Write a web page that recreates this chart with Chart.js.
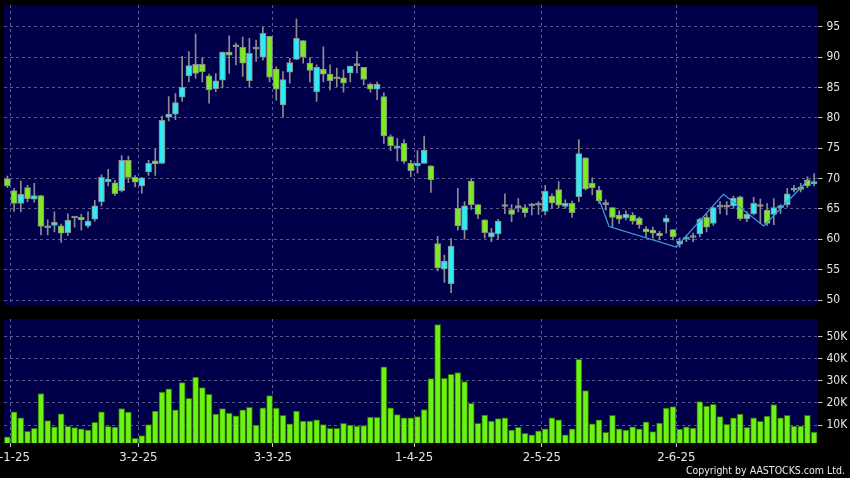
<!DOCTYPE html>
<html><head><meta charset="utf-8">
<script src="https://cdn.jsdelivr.net/npm/chart.js@4.4.1/dist/chart.umd.min.js"></script>
<style>
html,body{margin:0;padding:0;background:#000;width:850px;height:478px;overflow:hidden;}
#wrap{position:relative;width:850px;height:478px;background:#000;}
#pc{position:absolute;left:0;top:0;}
#vc{position:absolute;left:0;top:312px;}
#copy{position:absolute;right:5px;top:464px;color:#e8e8e8;font:10.5px 'DejaVu Sans Condensed','DejaVu Sans',sans-serif;white-space:nowrap;}
</style></head>
<body><div id="wrap"><canvas id="pc" width="850" height="312"></canvas><canvas id="vc" width="850" height="166"></canvas><div id="copy">Copyright by AASTOCKS.com Ltd.</div></div>
<script>
// ---- data (one entry per trading day, 31-12-24 .. 30-6-25) ----
const opens = [70.0,68.0,65.9,68.5,66.6,67.2,62.1,62.3,62.2,61.1,63.5,63.6,62.2,63.3,66.2,69.5,69.3,68.0,73.0,70.2,
68.8,71.1,72.9,72.5,80.1,80.6,83.4,86.9,88.8,88.8,86.9,84.8,86.2,90.8,91.7,91.6,86.1,91.3,90.0,93.4,
88.0,82.1,87.5,89.6,92.7,89.0,84.3,88.0,87.2,86.4,86.6,87.4,88.6,88.3,85.5,84.7,83.5,76.9,75.0,75.8,
72.5,72.1,72.5,72.1,59.3,55.1,52.7,65.1,61.5,69.6,65.7,63.2,60.4,60.9,65.7,64.9,65.2,65.2,65.5,65.6,
64.6,67.1,68.2,65.4,65.9,67.0,73.4,69.2,68.1,65.7,65.2,64.0,63.5,64.0,63.5,61.7,61.5,61.0,62.8,61.6,
59.2,60.0,60.3,60.9,63.6,62.6,65.3,65.3,65.5,67.0,63.4,64.2,65.7,64.8,64.1,65.2,65.7,68.1,68.6,69.8,69.1];
const highs = [70.4,68.4,69.6,68.9,69.2,67.2,63.2,64.5,62.5,64.2,63.7,64.1,64.5,66.4,70.6,71.5,69.7,73.8,73.7,70.5,
70.2,73.0,74.9,80.3,83.5,84.0,90.1,90.9,93.8,89.9,87.2,87.3,90.8,93.5,92.3,93.3,93.1,92.8,94.9,93.4,
88.4,87.6,89.8,96.3,92.7,89.9,88.7,91.7,88.7,88.2,87.9,88.5,90.9,88.3,85.7,85.9,84.1,77.2,76.6,76.4,
73.0,74.6,77.0,72.1,60.5,57.4,60.1,68.4,66.2,70.0,65.7,63.2,61.8,63.3,67.5,65.7,66.7,65.7,65.9,66.2,
68.9,67.5,69.5,66.5,66.3,76.4,73.4,70.1,68.7,66.5,65.2,64.7,64.7,64.4,63.7,62.1,62.0,61.3,64.0,61.6,
60.2,60.7,61.0,63.5,64.2,65.3,66.2,66.2,67.1,67.1,64.5,66.9,66.6,65.9,66.7,65.7,68.4,68.9,69.2,70.3,70.8];
const lows = [68.5,64.6,64.5,66.2,66.1,60.7,60.7,61.2,59.5,60.6,62.0,61.5,61.9,63.0,65.5,68.8,67.2,67.8,69.3,68.6,
67.6,70.5,70.5,72.5,79.5,79.7,82.7,85.9,86.5,85.9,82.4,84.3,84.9,87.3,88.7,86.8,85.0,89.3,89.5,85.9,
82.9,80.1,85.7,89.6,89.0,85.9,82.7,85.9,84.6,85.1,84.2,85.9,87.4,85.4,84.2,83.0,75.8,74.6,72.9,72.5,
70.3,70.9,72.5,67.7,54.8,52.9,51.2,61.5,60.0,64.9,63.4,60.2,59.6,60.0,64.2,62.9,64.5,63.7,64.0,64.1,
64.0,65.1,65.2,65.1,63.6,66.2,68.1,67.3,65.9,64.8,62.0,62.6,63.2,62.5,61.8,60.4,60.2,59.9,61.0,59.9,
58.7,59.6,59.6,60.4,61.2,62.3,64.2,64.0,65.1,63.1,62.9,64.0,62.6,62.3,62.4,64.2,65.3,67.8,67.8,68.5,68.8];
const closes = [68.8,65.9,67.4,66.7,67.2,62.1,61.9,62.8,61.0,63.1,63.5,63.2,63.0,65.5,70.2,69.9,67.5,73.0,70.2,69.4,
70.1,72.5,72.4,79.6,80.6,82.5,85.0,88.6,87.3,87.6,84.6,86.1,90.8,90.3,91.7,89.0,90.6,91.3,93.9,86.7,
84.7,86.3,89.1,93.1,90.0,87.8,88.3,87.2,86.1,86.4,85.7,88.5,88.6,86.3,84.7,85.5,77.0,75.4,75.4,72.8,
71.3,72.5,74.7,69.8,55.3,56.4,58.9,62.2,65.5,65.7,64.1,61.1,61.1,63.0,65.4,64.1,65.2,64.4,65.5,65.6,
67.9,66.0,65.6,65.9,64.4,74.1,68.3,68.5,66.3,65.7,63.6,63.3,64.1,63.0,62.4,61.2,61.0,60.6,63.5,60.4,
59.7,60.3,60.3,63.3,62.0,65.2,65.3,65.3,66.8,63.4,64.1,65.9,65.4,62.6,65.2,65.5,67.5,68.4,68.2,68.8,69.5];
// volume, thousands of shares
const volumes = [4.7,16.0,13.3,7.1,8.5,24.2,12.0,9.2,15.1,9.4,8.8,8.3,7.7,11.2,16.0,9.4,9.1,17.4,15.9,4.0,
5.2,10.2,16.3,24.9,26.4,16.9,29.2,22.1,31.7,27.0,23.9,15.0,17.4,15.4,14.2,16.9,18.0,10.0,17.8,23.3,
17.7,14.4,10.5,16.3,11.8,11.8,12.4,10.2,8.5,8.5,10.8,10.0,9.5,9.7,13.6,13.5,36.4,17.8,14.7,13.3,
13.3,13.8,17.0,31.0,55.5,31.2,33.0,33.8,29.7,19.8,10.8,14.5,11.8,12.9,13.3,7.7,8.9,6.2,5.5,7.4,
8.3,13.3,12.3,5.6,8.3,39.8,25.6,10.5,12.3,6.7,14.4,8.3,7.7,9.2,8.3,11.4,7.0,10.9,17.7,18.3,
8.2,9.2,8.6,20.6,18.6,19.4,13.8,10.3,13.3,15.0,8.9,13.2,11.7,14.1,19.2,13.3,14.4,9.5,9.5,14.4,6.8];
// zig-zag overlay (day index, price)
const zigDay = [88, 89.5, 99.5, 106.5, 112.5, 119];
const zigPrice = [66.6, 62.1, 58.7, 67.4, 62.2, 69.6];
// date axis
const tickDay = [1, 20, 40, 61, 80, 100];
const tickLabels = ['2-1-25','3-2-25','3-3-25','1-4-25','2-5-25','2-6-25'];
const priceTicks = [50,55,60,65,70,75,80,85,90,95];
const volTicks = [10,20,30,40,50];

// ---- styling ----
const FONT = "'DejaVu Sans Condensed','DejaVu Sans',sans-serif";
const NAVY = '#00004a', GRID = '#5a5a8c', TXT = '#e4e4e4';
const UP = '#30eaf4', DOWN = '#7cec22', DOJI = '#a0a0a0', EDGE = '#8c8c8c';
Chart.defaults.font.family = FONT;
Chart.defaults.font.size = 12;
Chart.defaults.color = TXT;

const plotBg = {id:'plotBg', beforeDraw(c){const a=c.chartArea,x=c.ctx;x.save();x.fillStyle=NAVY;x.fillRect(a.left,a.top,a.right-a.left,a.bottom-a.top);x.restore();}};
const idx = closes.map((_, i) => i);
const nDays = closes.length;
const candleColor = i => closes[i] > opens[i] ? UP : (closes[i] < opens[i] ? DOWN : DOJI);
const xGridTicks = s => { s.ticks = tickDay.map(d => ({value: d - 0.5})); };
const AXW = 32.5;

const xBase = (showLabels, h) => ({
  type:'linear', min:-0.5, max:nDays-0.5, offset:false,
  afterBuildTicks: xGridTicks,
  afterFit: s => { s.height = h; s.paddingLeft = 0; s.paddingRight = 0; },
  grid:{offset:false, color:GRID, lineWidth:1, drawTicks:showLabels, tickLength:4, tickColor:'#c8c8c8', tickBorderDash:[]},
  border:{display:false, dash:[3,3]},
  ticks:{display:showLabels, autoSkip:false, maxRotation:0, padding:3, color:TXT, font:{size:13},
    callback:(v, k) => tickLabels[k]}
});
const yBase = (vals, min, max, fmt) => ({
  position:'right', min, max,
  afterBuildTicks: s => { s.ticks = vals.map(v => ({value:v})); },
  afterFit: s => { s.width = AXW; s.paddingTop = 0; s.paddingBottom = 0; },
  grid:{color:GRID, lineWidth:1, drawTicks:true, tickLength:5, tickColor:'#c8c8c8', tickBorderDash:[]},
  border:{display:false, dash:[3,3]},
  ticks:{padding:4, color:TXT, callback: fmt}
});

new Chart(document.getElementById('pc'), {
  type:'bar',
  data:{datasets:[
    {type:'line', data: zigDay.map((d,k)=>({x:d, y:zigPrice[k]})), borderColor:'#3d9fe6', borderWidth:1.2,
     pointRadius:0, tension:0, order:0},
    {data: idx.map(i=>({x:i, y:[opens[i], closes[i]]})), backgroundColor: idx.map(candleColor),
     borderColor: EDGE, borderWidth:1, borderSkipped:false, barThickness:6, minBarLength:2, grouped:false, order:1},
    {data: idx.map(i=>({x:i, y:[lows[i], highs[i]]})), backgroundColor: EDGE, barThickness:1, grouped:false, order:2}
  ]},
  options:{
    animation:false, responsive:false, devicePixelRatio:1, events:[],
    layout:{padding:{left:4, top:5, bottom:7, right:0}},
    plugins:{legend:{display:false}, tooltip:{enabled:false}},
    scales:{ x: xBase(false, 0), y: yBase(priceTicks, 49.18, 98.57, v => String(v)) }
  },
  plugins:[plotBg]
});

new Chart(document.getElementById('vc'), {
  type:'bar',
  data:{datasets:[
    {data: idx.map(i=>({x:i, y:volumes[i]})), backgroundColor:'#6cf214', borderColor:'#2d6e00',
     borderWidth:1, barThickness:6, grouped:false}
  ]},
  options:{
    animation:false, responsive:false, devicePixelRatio:1, events:[],
    layout:{padding:{left:4, top:7, bottom:0, right:0}},
    plugins:{legend:{display:false}, tooltip:{enabled:false}},
    scales:{ x: xBase(true, 35), y: yBase(volTicks, 1.85, 58.02, v => v + 'K') }
  },
  plugins:[plotBg]
});
</script>
</body></html>
